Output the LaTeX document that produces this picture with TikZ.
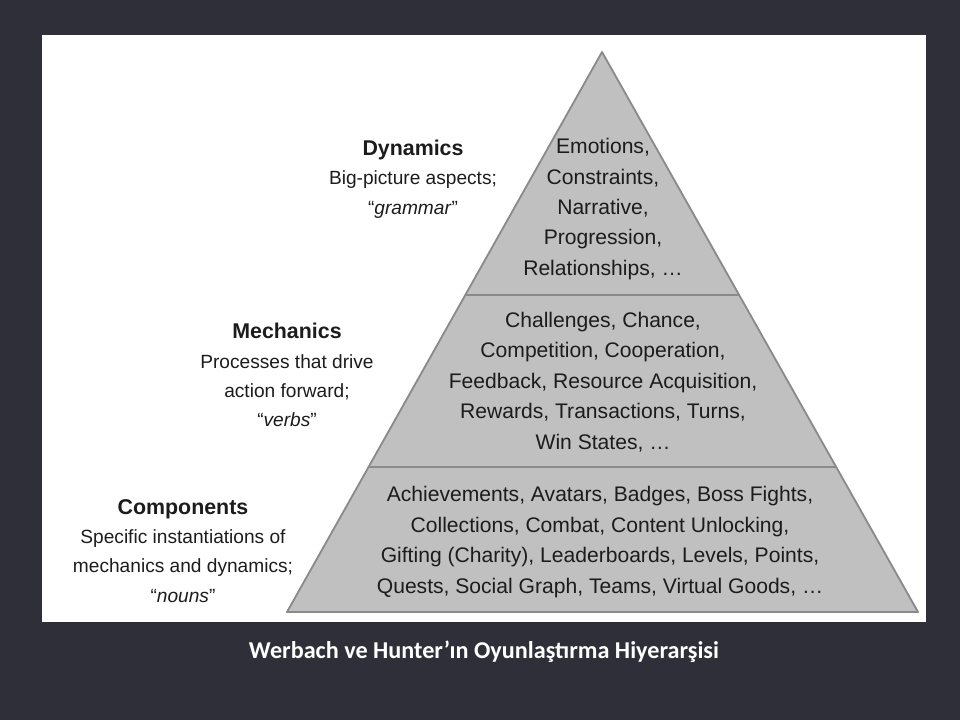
\documentclass[tikz,border=0pt]{standalone}
\usepackage{fontspec}
\setmainfont{Liberation Sans}
\newfontfamily\captionfont{Carlito}
\usetikzlibrary{calc, positioning}
\definecolor{slatebg}{RGB}{46,47,56}
\definecolor{pyrgray}{RGB}{192,192,192}
\definecolor{pyredge}{RGB}{138,138,138}
\definecolor{inktext}{RGB}{28,28,28}
\newcommand{\tierhead}[1]{{\fontsize{15.2}{20.8}\selectfont\bfseries #1}}

\begin{document}
\begin{tikzpicture}[x=0.025cm, y=-0.025cm,
    tier/.style={fill=pyrgray, draw=pyredge, line width=1.3pt, line join=round},
    tiertext/.style={align=center, text=inktext, inner sep=0pt, font=\fontsize{15}{21.6}\selectfont},
    sidelabel/.style={align=center, text=inktext, inner sep=0pt, font=\fontsize{13.6}{20.8}\selectfont}]
    % --- Tlo i biala plansza ---
    \fill[slatebg] (0,0) rectangle (960,720);
    \useasboundingbox (0,0) rectangle (960,720);
    \fill[white] (42,35) rectangle (926,622);

    % --- Piramida (wierzcholki) ---
    \coordinate (apex) at (602,52);
    \coordinate (baseL) at (287,612);
    \coordinate (baseR) at (918,612);
    \coordinate (upL) at ($(apex)!0.434!(baseL)$);
    \coordinate (upR) at ($(apex)!0.434!(baseR)$);
    \coordinate (lowL) at ($(apex)!0.741!(baseL)$);
    \coordinate (lowR) at ($(apex)!0.741!(baseR)$);

    % Trzy poziomy
    \draw[tier] (apex) -- (upR) -- (upL) -- cycle;
    \draw[tier] (upL) -- (upR) -- (lowR) -- (lowL) -- cycle;
    \draw[tier] (lowL) -- (lowR) -- (baseR) -- (baseL) -- cycle;

    % Teksty wewnatrz piramidy
    \node[tiertext] (dynText) at (603,209) {Emotions,\\Constraints,\\Narrative,\\Progression,\\Relationships, \dots};
    \node[tiertext] (mechText) at (603,382) {Challenges, Chance,\\Competition, Cooperation,\\Feedback, Resource Acquisition,\\Rewards, Transactions, Turns,\\Win States, \dots};
    \node[tiertext] (compText) at (600,542) {Achievements, Avatars, Badges, Boss Fights,\\Collections, Combat, Content Unlocking,\\Gifting (Charity), Leaderboards, Levels, Points,\\Quests, Social Graph, Teams, Virtual Goods, \dots};

    % --- Opisy po lewej ---
    \node[sidelabel] (dynLabel) at (413,179) {\tierhead{Dynamics}\\Big-picture aspects;\\“\textit{grammar}”};
    \node[sidelabel] (mechLabel) at (287,375) {\tierhead{Mechanics}\\Processes that drive\\action forward;\\“\textit{verbs}”};
    \node[sidelabel] (compLabel) at (183,551) {\tierhead{Components}\\Specific instantiations of\\mechanics and dynamics;\\“\textit{nouns}”};

    % Podpis
    \node[text=white, font=\captionfont\bfseries\fontsize{17.2}{20}\selectfont] (caption) at (484,652) {Werbach ve Hunter’ın Oyunlaştırma Hiyerarşisi};
\end{tikzpicture}
\end{document}
